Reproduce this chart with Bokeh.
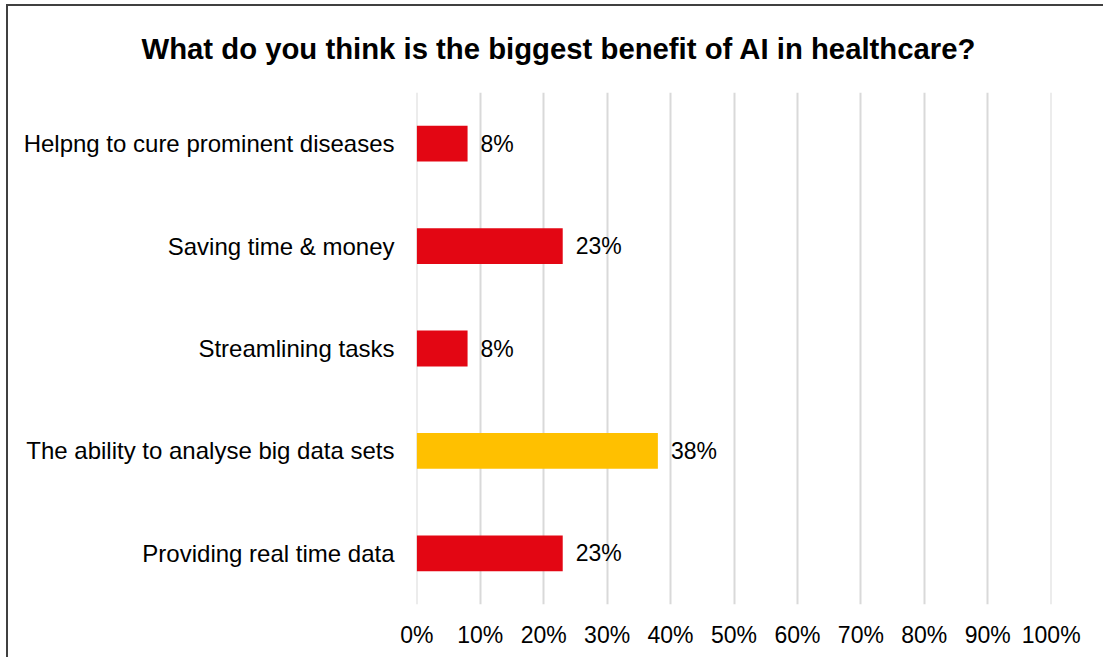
from bokeh.plotting import figure
from bokeh.models import ColumnDataSource, FixedTicker, Title
from bokeh.core.properties import value
from bokeh.embed import file_html
from bokeh.resources import INLINE

title_text = "What do you think is the biggest benefit of AI in healthcare?"
categories = [
    "Helpng to cure prominent diseases",
    "Saving time & money",
    "Streamlining tasks",
    "The ability to analyse big data sets",
    "Providing real time data",
]
values = [8, 23, 8, 38, 23]
colors = ["#E30613", "#E30613", "#E30613", "#FFC000", "#E30613"]
tick_values = [0, 10, 20, 30, 40, 50, 60, 70, 80, 90, 100]
tick_labels = ["0%", "10%", "20%", "30%", "40%", "50%", "60%", "70%", "80%", "90%", "100%"]

FONT = "Liberation Sans"

src = ColumnDataSource(dict(
    cat=categories,
    val=values,
    color=colors,
    label=[f"{v}%" for v in values],
))

p = figure(
    width=1097, height=653,
    y_range=list(reversed(categories)),
    x_range=(-0.05, 100.05),
    output_backend="svg",
    toolbar_location=None,
    min_border_left=408, min_border_right=54,
    min_border_top=86, min_border_bottom=55,
    styles={
        "margin-left": "6px",
        "margin-top": "4px",
        "border-left": "2px solid #404040",
        "border-top": "2px solid #404040",
    },
)
p.outline_line_color = None
p.background_fill_color = "white"
p.border_fill_color = "white"

t = Title(text=title_text, align="left", offset=-275, standoff=51,
          vertical_align="top", text_baseline="top",
          text_font=FONT, text_font_size="29.3px", text_font_style="bold",
          text_color="#000000")
p.add_layout(t, "above")

p.hbar(y="cat", right="val", left=0, height=0.35, source=src,
       fill_color="color", line_color=None)

p.text(x="val", y="cat", text="label", source=src, x_offset=13,
       text_baseline="middle", text_align="left",
       text_font=value(FONT), text_font_size="23px", text_color="#000000")

p.xaxis.ticker = FixedTicker(ticks=tick_values)
p.xaxis.major_label_overrides = {v: l for v, l in zip(tick_values, tick_labels)}
p.xaxis.axis_line_color = None
p.xaxis.major_tick_line_color = None
p.xaxis.minor_tick_line_color = None
p.xaxis.major_label_standoff = 11
p.xaxis.major_label_text_font = FONT
p.xaxis.major_label_text_font_size = "23px"
p.xaxis.major_label_text_color = "#000000"

p.yaxis.axis_line_color = None
p.yaxis.major_tick_line_color = None
p.yaxis.minor_tick_line_color = None
p.yaxis.major_label_standoff = 16
p.yaxis.major_label_text_font = FONT
p.yaxis.major_label_text_font_size = "24px"
p.yaxis.major_label_text_color = "#000000"

p.xgrid.grid_line_color = "#D9D9D9"
p.xgrid.grid_line_width = 2
p.ygrid.grid_line_color = None

open("out.html", "w").write(file_html(p, INLINE))
